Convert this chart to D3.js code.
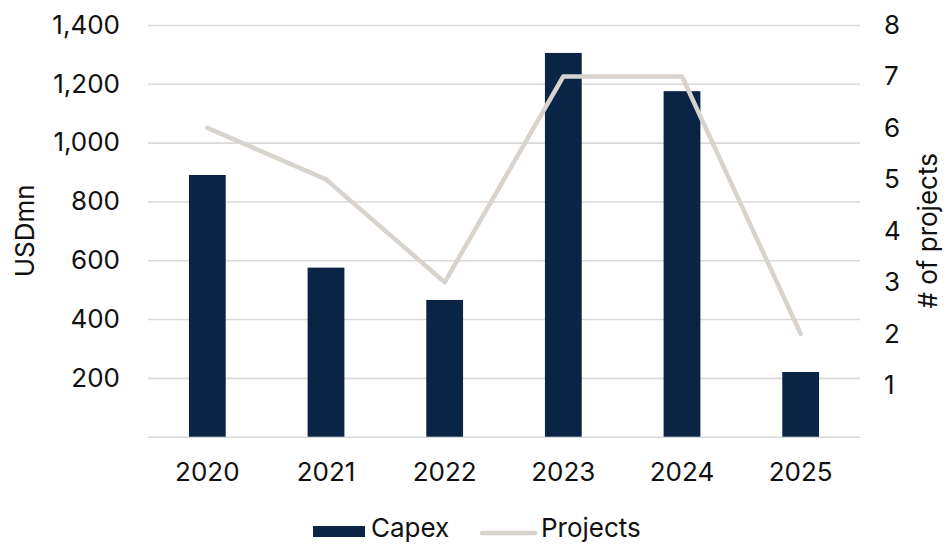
<!DOCTYPE html>
<html>
<head>
<meta charset="utf-8">
<script src="https://cdn.jsdelivr.net/npm/d3@7"></script>
<style>
  html, body { margin: 0; padding: 0; background: #fff; }
  svg { display: block; }
  text { font-family: Inter, "Open Sans", sans-serif; fill: #111; }
</style>
</head>
<body>
<svg id="chart" width="946" height="544"></svg>
<script>
// Capex (USDmn, left axis) and number of projects (right axis) per year
const years = ["2020", "2021", "2022", "2023", "2024", "2025"];
const capex = [890, 575, 465, 1305, 1175, 220];
const projects = [6, 5, 3, 7, 7, 2];
const capexTicks = [200, 400, 600, 800, 1000, 1200, 1400];
const projectTicks = [1, 2, 3, 4, 5, 6, 7, 8];

const plotLeft = 148, plotRight = 860, plotTop = 25, plotBottom = 436.7;
const fontSize = 26;
const barColor = "#0a2446";
const lineColor = "#d8d3cd";
const gridColor = "#d9d9d9";
const fontFamily = 'Inter, "Open Sans", sans-serif';

const svg = d3.select("#chart");

const x = d3.scaleBand().domain(years).range([plotLeft, plotRight]).padding(0);
const yL = d3.scaleLinear().domain([0, 1400]).range([plotBottom, plotTop]);
const yR = d3.scaleLinear().domain([0, 8]).range([plotBottom, plotTop]);
const barW = x.bandwidth() * 0.31;

// horizontal gridlines (including the zero baseline)
const gridAxis = d3.axisLeft(yL)
  .tickValues([0].concat(capexTicks))
  .tickSize(-(plotRight - plotLeft))
  .tickFormat("");
const grid = svg.append("g").attr("transform", `translate(${plotLeft},0)`).call(gridAxis);
grid.select(".domain").remove();
grid.selectAll(".tick line").attr("stroke", gridColor).attr("stroke-width", 1.6);

function styleLabels(g) {
  g.select(".domain").remove();
  g.selectAll("text")
    .style("font-size", fontSize + "px")
    .style("font-family", fontFamily)
    .attr("fill", "#111");
}

// left axis labels
const leftAxis = d3.axisLeft(yL)
  .tickValues(capexTicks)
  .tickSize(0)
  .tickPadding(28)
  .tickFormat(d3.format(","));
svg.append("g").attr("transform", `translate(${plotLeft},0)`).call(leftAxis).call(styleLabels);

// right axis labels
const rightAxis = d3.axisRight(yR)
  .tickValues(projectTicks)
  .tickSize(0)
  .tickPadding(24)
  .tickFormat(d3.format("d"));
svg.append("g").attr("transform", `translate(${plotRight},0)`).call(rightAxis).call(styleLabels);

// category axis
const xAxis = d3.axisBottom(x).tickSize(0).tickPadding(26);
svg.append("g").attr("transform", `translate(0,${plotBottom})`).call(xAxis).call(styleLabels);

// capex bars
svg.append("g").selectAll("rect")
  .data(years.map((y, i) => ({ year: y, v: capex[i] })))
  .join("rect")
  .attr("x", d => x(d.year) + x.bandwidth() / 2 - barW / 2)
  .attr("width", barW)
  .attr("y", d => yL(d.v))
  .attr("height", d => yL(0) - yL(d.v))
  .attr("fill", barColor);

// projects line
const line = d3.line()
  .x(d => x(d.year) + x.bandwidth() / 2)
  .y(d => yR(d.v));
svg.append("path")
  .datum(years.map((y, i) => ({ year: y, v: projects[i] })))
  .attr("d", line)
  .attr("fill", "none")
  .attr("stroke", lineColor)
  .attr("stroke-width", 4.5)
  .attr("stroke-linejoin", "round")
  .attr("stroke-linecap", "round");

// axis titles
svg.append("text")
  .attr("transform", `translate(24,${(plotTop + plotBottom) / 2}) rotate(-90)`)
  .attr("text-anchor", "middle")
  .attr("dominant-baseline", "central")
  .style("font-size", fontSize + "px")
  .text("USDmn");

svg.append("text")
  .attr("transform", `translate(927,${(plotTop + plotBottom) / 2}) rotate(-90)`)
  .attr("text-anchor", "middle")
  .attr("dominant-baseline", "central")
  .style("font-size", fontSize + "px")
  .text("# of projects");

// legend
const legendBase = 537;
const legend = svg.append("g");
legend.append("rect")
  .attr("x", 313).attr("y", legendBase - 11).attr("width", 52).attr("height", 11)
  .attr("fill", barColor);
legend.append("text")
  .attr("x", 371).attr("y", legendBase)
  .style("font-size", fontSize + "px")
  .text("Capex");
legend.append("line")
  .attr("x1", 482).attr("x2", 535).attr("y1", legendBase - 4).attr("y2", legendBase - 4)
  .attr("stroke", lineColor).attr("stroke-width", 4.5).attr("stroke-linecap", "round");
legend.append("text")
  .attr("x", 541).attr("y", legendBase)
  .style("font-size", fontSize + "px")
  .text("Projects");
</script>
</body>
</html>
